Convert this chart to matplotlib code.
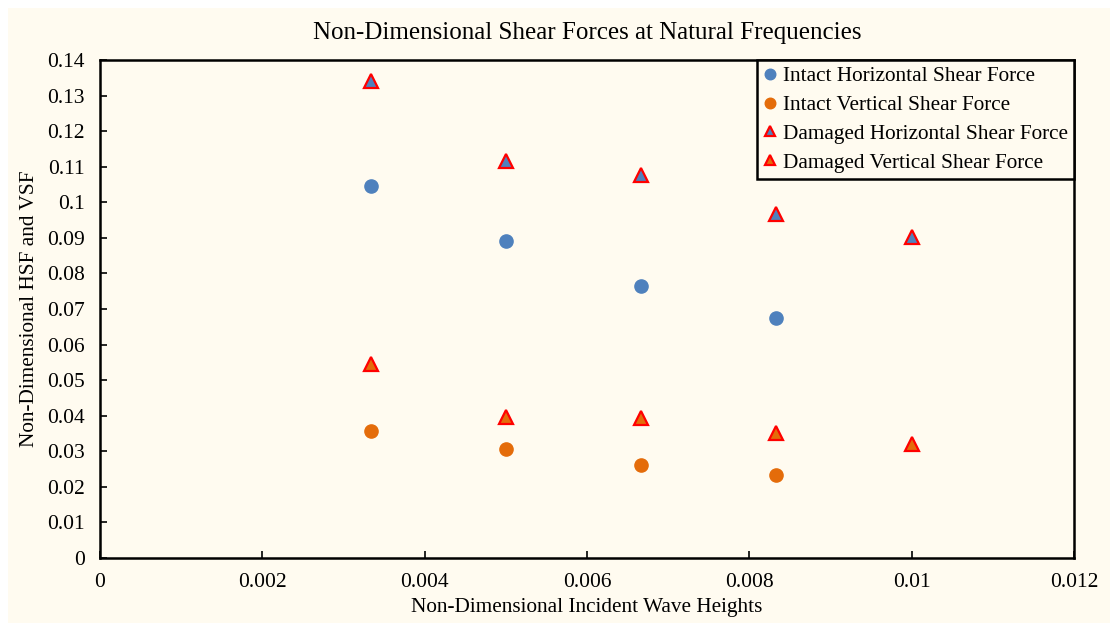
import matplotlib.pyplot as plt
from matplotlib.patches import Rectangle

plt.rcParams['font.family'] = ['Liberation Serif', 'DejaVu Serif']

# Non-dimensional incident wave heights
wave_h = [0.003333, 0.005, 0.006667, 0.008333, 0.01]

intact_hsf = [0.1046, 0.0891, 0.0765, 0.0675]
intact_vsf = [0.0357, 0.0306, 0.0261, 0.0233]
damaged_hsf = [0.1341, 0.1116, 0.1077, 0.0967, 0.0902]
damaged_vsf = [0.0545, 0.0396, 0.0394, 0.0351, 0.0320]

x_ticks = [0, 0.002, 0.004, 0.006, 0.008, 0.01, 0.012]
x_tick_labels = ['0', '0.002', '0.004', '0.006', '0.008', '0.01', '0.012']
y_ticks = [0, 0.01, 0.02, 0.03, 0.04, 0.05, 0.06, 0.07, 0.08, 0.09, 0.1, 0.11, 0.12, 0.13, 0.14]
y_tick_labels = ['0', '0.01', '0.02', '0.03', '0.04', '0.05', '0.06', '0.07', '0.08', '0.09',
                 '0.1', '0.11', '0.12', '0.13', '0.14']

blue = '#4F81BD'
orange = '#E46C0A'
cream = '#FFFBF0'

fig = plt.figure(figsize=(11.10, 6.23), dpi=100, facecolor='white')
fig.patches.append(Rectangle((8 / 1110, 0), 1, 1 - 8 / 623, transform=fig.transFigure,
                             facecolor=cream, edgecolor='none', zorder=-10))
ax = fig.add_axes([100 / 1110, 1 - 558 / 623, 974 / 1110, 498 / 623])
ax.set_facecolor(cream)

ax.plot(wave_h[:4], intact_hsf, 'o', color=blue, markersize=9.5, label='Intact Horizontal Shear Force')
ax.plot(wave_h[:4], intact_vsf, 'o', color=orange, markersize=9.5, label='Intact Vertical Shear Force')
ax.plot(wave_h, damaged_hsf, '^', color=blue, markeredgecolor='red', markeredgewidth=1.6,
        markersize=9.5, label='Damaged Horizontal Shear Force')
ax.plot(wave_h, damaged_vsf, '^', color=orange, markeredgecolor='red', markeredgewidth=1.6,
        markersize=9.5, label='Damaged Vertical Shear Force')

ax.set_xlim(0, 0.012)
ax.set_ylim(0, 0.14)
ax.set_xticks(x_ticks)
ax.set_xticklabels(x_tick_labels)
ax.set_yticks(y_ticks)
ax.set_yticklabels(y_tick_labels)
ax.tick_params(direction='in', length=5, width=1.2, labelsize=15.5, colors='black', pad=11)
for s in ax.spines.values():
    s.set_linewidth(1.8)
    s.set_color('black')

ax.set_title('Non-Dimensional Shear Forces at Natural Frequencies', fontsize=18, pad=15)
ax.set_xlabel('Non-Dimensional Incident Wave Heights', fontsize=15.3, labelpad=4)
ax.set_ylabel('Non-Dimensional HSF and VSF', fontsize=15.3, labelpad=6)

leg = ax.legend(loc='upper right', fontsize=15.3, frameon=True, fancybox=False, framealpha=1,
                facecolor=cream, edgecolor='black', handlelength=0.6, handletextpad=0.3,
                borderaxespad=0, borderpad=0.3, labelspacing=0.42, markerscale=0.8)
leg.get_frame().set_linewidth(1.8)

fig.savefig('out.png', dpi=100, facecolor=fig.get_facecolor())
